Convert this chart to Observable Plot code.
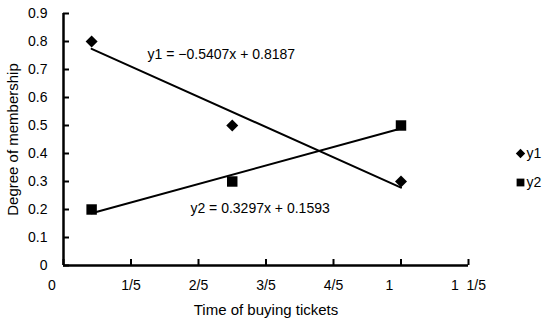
<!DOCTYPE html>
<html><head><meta charset="utf-8">
<script src="https://cdn.jsdelivr.net/npm/d3@7"></script>
<script src="https://cdn.jsdelivr.net/npm/@observablehq/plot@0.6"></script>
<style>body{margin:0;background:#fff}</style>
</head><body><div id="chart"></div>
<script>
const xValues = [1/12, 1/2, 1];
const y1Values = [0.8, 0.5, 0.3];
const y2Values = [0.2, 0.3, 0.5];
const seriesNames = ["y1", "y2"];
const seriesSymbols = ["diamond2", "square"];
const trendSlopes = [-0.5407, 0.3297];
const trendIntercepts = [0.8187, 0.1593];
const equationLabels = ["y1 = \u22120.5407x + 0.8187", "y2 = 0.3297x + 0.1593"];
const equationX = [0.249, 0.376];
const equationY = [0.754, 0.203];
const xTicks = [0, 0.2, 0.4, 0.6, 0.8, 1, 1.2];
const xTickLabels = ["0\u00a0\u2007\u2008\u2007", "1/5", "2/5", "3/5", "4/5", "1\u00a0\u2007\u2008\u2007", "1\u00a0\u00a01/5"];
const yTicks = [0, 0.1, 0.2, 0.3, 0.4, 0.5, 0.6, 0.7, 0.8, 0.9];
const yTickLabels = ["0", "0.1", "0.2", "0.3", "0.4", "0.5", "0.6", "0.7", "0.8", "0.9"];
const xTitle = "Time of buying tickets";
const yTitle = "Degree of membership";

const seriesValues = [y1Values, y2Values];
const points = [];
seriesNames.forEach((s, si) => xValues.forEach((x, i) => points.push({series: s, si, x, y: seriesValues[si][i]})));
const xmin = d3.min(xValues), xmax = d3.max(xValues);
const trend = [];
seriesNames.forEach((s, si) => [xmin, xmax].forEach(x => trend.push({series: s, x, y: trendSlopes[si] * x + trendIntercepts[si]})));

const marks = [
  Plot.axisX({ticks: xTicks, tickFormat: d => xTickLabels[xTicks.indexOf(d)], tickSize: -6, tickPadding: 21, label: null, strokeWidth: 2, fontSize: 14}),
  Plot.axisY({ticks: yTicks, tickFormat: d => yTickLabels[yTicks.findIndex(t => Math.abs(t - d) < 1e-9)], tickSize: -6, tickPadding: 22, label: null, strokeWidth: 2, fontSize: 14}),
  Plot.ruleX([0], {strokeWidth: 2.5}),
  Plot.ruleY([0], {strokeWidth: 2.5}),
  Plot.line(trend, {x: "x", y: "y", z: "series", stroke: "black", strokeWidth: 2}),
  Plot.dot(points.filter(p => p.si === 0), {x: "x", y: "y", symbol: () => seriesSymbols[0], fill: "black", r: 5.4}),
  Plot.dot(points.filter(p => p.si === 1), {x: "x", y: "y", symbol: () => seriesSymbols[1], fill: "black", r: 5.9}),
  Plot.text(equationLabels, {x: (d, i) => equationX[i], y: (d, i) => equationY[i], text: d => d, textAnchor: "start", fontSize: 14, fill: "black"}),
  Plot.text([xTitle], {text: d => d, frameAnchor: "bottom", dy: 45, textAnchor: "middle", lineAnchor: "middle", fontSize: 15, fill: "black"}),
  Plot.text([yTitle], {text: d => d, frameAnchor: "left", dx: -50, rotate: -90, textAnchor: "middle", lineAnchor: "middle", fontSize: 15, fill: "black"})
];
seriesNames.forEach((s, si) => {
  marks.push(Plot.dot([s], {frameAnchor: "right", dx: 52, dy: 14 + si * 29, symbol: () => seriesSymbols[si], fill: "black", r: si === 0 ? 4.2 : 4.4}));
  marks.push(Plot.text([s], {text: d => d, frameAnchor: "right", dx: 58, dy: 14 + si * 29, textAnchor: "start", lineAnchor: "middle", fontSize: 14, fill: "black"}));
});

const chart = Plot.plot({
  width: 550, height: 327,
  marginLeft: 63, marginRight: 82, marginTop: 13, marginBottom: 62,
  style: {fontFamily: "'Liberation Sans', Arial, sans-serif", fontSize: "14px", color: "black", background: "white"},
  x: {domain: [0, 1.2]},
  y: {domain: [0, 0.9]},
  symbol: {type: "identity"},
  marks
});
document.getElementById("chart").appendChild(chart);
</script>
</body></html>
